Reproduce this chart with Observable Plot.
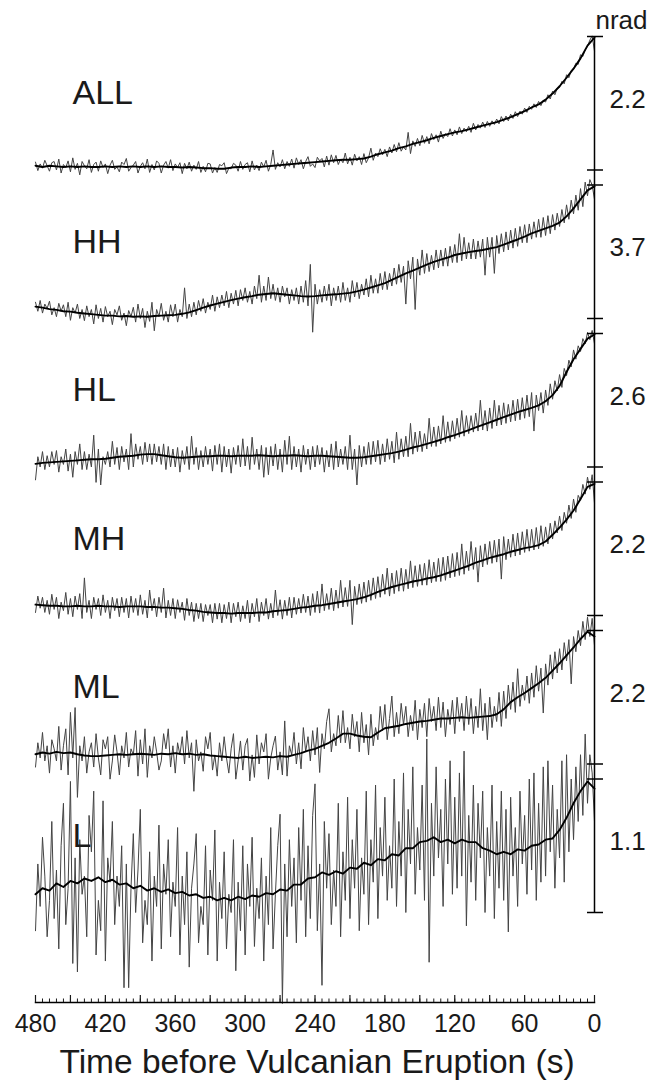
<!DOCTYPE html>
<html><head><meta charset="utf-8">
<script src="https://cdn.jsdelivr.net/npm/d3@7"></script>
<script src="https://cdn.jsdelivr.net/npm/@observablehq/plot@0.6"></script>
<style>html,body{margin:0;padding:0;background:#fff;}</style>
</head><body><div id="chart"></div>
<script>
// Series names and the nrad value of each scale bar
const seriesNames = ["ALL","HH","HL","MH","ML","L"];
const scaleNrad = [2.2, 3.7, 2.6, 2.2, 2.2, 1.1];
const rawStep = 2;     // seconds between raw samples (480 -> 0)
const smoothStep = 6;  // seconds between smoothed samples (480 -> 0)

// Raw tilt traces (nrad), t = 480, 478, ..., 0
const rawALL = [
0.13,-0.01,0.10, 0.03,0.16,0.07, -0.02,0.12,0.14, 0.00,0.18,-0.05,
0.09,0.04,0.15, -0.03,0.20,0.01, 0.11,-0.08,0.14, 0.07,0.02,0.17,
-0.04,0.09,0.13, -0.02,0.15,0.04, 0.10,-0.06,0.08, 0.16,0.01,0.05,
-0.03,0.13,0.09, 0.19,-0.02,0.04, 0.08,0.14,-0.05, 0.06,0.12,0.02,
0.18,-0.04,0.09, 0.00,0.15,0.11, -0.05,0.08,0.14, 0.03,0.17,-0.01,
0.10,0.04,0.12, -0.06,0.11,0.02, 0.13,-0.02,0.08, 0.01,0.14,-0.04,
0.06,-0.03,0.11, 0.10,-0.05,0.04, -0.04,0.09,0.07, 0.12,-0.06,0.03,
0.02,0.11,0.08, -0.02,0.14,0.01, 0.09,0.12,-0.03, 0.15,0.00,0.08,
-0.01,0.13,0.05, 0.16,-0.02,0.09, 0.33,0.01,0.12, 0.05,0.17,0.02,
0.14,0.06,0.18, 0.03,0.20,0.09, 0.17,0.02,0.14, 0.22,0.06,0.10,
0.04,0.21,0.15, 0.19,0.05,0.23, 0.08,0.25,0.12, 0.24,0.09,0.18,
0.12,0.28,0.10, 0.21,0.08,0.26, 0.15,0.22,0.09, 0.27,0.12,0.20,
0.36,0.16,0.28, 0.22,0.35,0.25, 0.34,0.22,0.38, 0.28,0.42,0.30,
0.45,0.31,0.38, 0.33,0.62,0.27, 0.48,0.39,0.52, 0.40,0.57,0.44,
0.55,0.43,0.60, 0.50,0.58,0.46, 0.64,0.52,0.60, 0.55,0.68,0.56,
0.66,0.58,0.71, 0.60,0.69,0.63, 0.72,0.62,0.77, 0.66,0.75,0.69,
0.79,0.70,0.80, 0.72,0.81,0.75, 0.84,0.76,0.88, 0.80,0.89,0.81,
0.92,0.85,0.96, 0.88,0.97,0.92, 1.02,0.95,1.05, 1.00,1.09,1.03,
1.13,1.06,1.15, 1.12,1.24,1.17, 1.30,1.24,1.35, 1.36,1.46,1.42,
1.57,1.52,1.64, 1.66,1.76,1.74, 1.90,1.87,1.98, 2.04,2.14,2.21,
1.96];
const rawHH = [
0.45,0.20,0.50, 0.15,0.40,0.28, 0.48,0.10,0.30, 0.05,0.42,0.20,
0.38,0.05,0.45, -0.05,0.30,0.15, 0.40,0.00,0.25, -0.06,0.35,0.05,
0.25,-0.15,0.38, 0.00,0.28,-0.10, 0.33,0.05,0.20, -0.17,0.25,0.10,
0.35,-0.05,0.15, -0.20,0.22,0.05, 0.31,-0.10,0.40, 0.00,0.28,-0.25,
0.20,-0.08,0.45, -0.34,0.25,0.05, 0.42,-0.05,0.20, -0.10,0.38,0.05,
0.40,-0.10,0.25, 0.05,0.85,0.00, 0.40,0.05,0.45, 0.10,0.50,0.20,
0.55,0.15,0.45, 0.25,0.65,0.20, 0.60,0.30,0.65, 0.35,0.75,0.30,
0.70,0.40,0.78, 0.35,0.80,0.50, 0.85,0.45,0.75, 0.40,0.90,0.55,
1.20,0.45,0.90, 0.50,1.15,0.55, 0.95,0.50,0.85, 0.45,0.90,0.60,
0.85,0.40,0.80, 0.50,0.85,0.40, 0.90,0.45,1.05, 0.35,1.50,-0.38,
0.95,0.40,0.80, 0.45,0.90,0.50, 0.95,0.35,0.85, 0.50,0.90,0.45,
1.00,0.50,0.85, 0.45,1.05,0.60, 1.00,0.55,0.95, 0.65,1.10,0.60,
1.20,0.70,1.10, 0.70,1.25,0.80, 1.30,0.80,1.25, 0.90,1.40,0.95,
1.50,1.00,1.45, 0.40,1.60,1.10, 1.70,0.25,1.65, 1.20,1.90,1.25,
1.80,1.30,1.75, 1.35,1.90,1.40, 1.90,1.45,1.95, 1.45,2.00,1.55,
2.05,1.55,2.35, 1.60,2.25,1.65, 2.10,1.65,2.20, 1.65,2.15,1.70,
2.20,1.20,2.25, 1.70,2.25,1.25, 2.30,1.80,2.35, 1.85,2.40,1.90,
2.45,1.95,2.50, 2.00,2.55,2.10, 2.60,2.10,2.62, 2.20,2.68,2.25,
2.75,2.25,2.80, 2.30,2.85,2.35, 2.88,2.45,2.92, 2.55,3.02,2.65,
3.15,2.75,3.28, 2.90,3.42,3.00, 3.60,3.10,3.78, 3.40,3.85,3.70,
3.30];
const rawHL = [
-0.25,0.20,0.00, 0.30,-0.05,0.22, 0.00,0.30,0.05, 0.32,-0.10,0.20,
0.05,0.35,-0.08, 0.25,-0.20,0.30, 0.05,0.45,-0.05, 0.30,-0.05,0.25,
0.00,0.62,-0.30, 0.35,-0.35,0.20, 0.05,0.30,0.00, 0.50,0.05,0.38,
-0.05,0.40,0.10, 0.35,-0.05,0.65, 0.00,0.45,0.15, 0.40,0.05,0.48,
0.10,0.45,0.05, 0.45,0.10,0.40, 0.05,0.45,-0.05, 0.40,0.00,0.35,
0.00,0.38,-0.10, 0.32,0.05,0.40, -0.05,0.60,0.05, 0.38,-0.05,0.32,
0.00,0.40,0.05, 0.35,-0.08,0.42, 0.05,0.45,-0.10, 0.40,0.00,0.35,
-0.12,0.38,0.05, 0.42,0.00,0.55, 0.02,0.40,-0.05, 0.58,0.05,0.35,
-0.05,0.42,-0.20, 0.38,-0.15,0.40, 0.02,0.45,-0.05, 0.35,-0.10,0.52,
0.05,0.60,-0.05, 0.40,0.00,0.35, -0.10,0.42,0.05, 0.35,-0.05,0.40,
0.00,0.42,0.05, 0.38,-0.10,0.32, 0.00,0.45,-0.05, 0.50,0.00,0.35,
0.05,0.40,-0.05, 0.62,-0.05,0.35, -0.35,0.42,0.00, 0.40,0.05,0.48,
0.05,0.50,0.10, 0.52,0.05,0.45, 0.10,0.55,0.15, 0.50,0.08,0.68,
0.15,0.55,0.20, 0.60,0.20,0.85, 0.25,0.68,0.30, 0.70,0.30,0.65,
0.35,0.95,0.40, 0.78,0.40,0.80, 0.45,1.00,0.48, 0.88,0.50,0.90,
0.55,0.95,0.58, 1.10,0.60,1.00, 0.65,1.00,0.68, 1.05,0.70,1.30,
0.72,1.10,0.70, 1.15,0.75,1.30, 0.80,1.20,0.82, 1.25,0.85,1.22,
0.88,1.30,0.90, 1.32,0.92,1.35, 0.95,1.40,0.98, 1.45,0.70,1.40,
1.10,1.45,1.05, 1.50,1.20,1.62, 1.32,1.68,1.48, 1.80,1.55,1.92,
1.78,2.08,1.95, 2.28,2.10,2.36, 2.25,2.50,2.40, 2.62,2.48,2.66,
2.40];
const rawMH = [
0.05,0.32,0.12, 0.30,0.05,0.25, 0.02,0.35,0.10, 0.30,-0.05,0.22,
0.08,0.38,0.02, 0.28,-0.02,0.32, 0.10,0.36,-0.05, 0.62,0.05,0.25,
-0.05,0.30,0.10, 0.28,0.00,0.34, 0.05,0.25,-0.05, 0.30,0.08,0.28,
-0.02,0.30,0.05, 0.28,-0.04,0.32, 0.05,0.28,0.00, 0.34,0.02,0.25,
-0.04,0.42,0.08, 0.28,-0.02,0.30, 0.05,0.45,-0.04, 0.25,0.00,0.28,
-0.05,0.26,0.05, 0.22,-0.08,0.28, 0.00,0.22,-0.10, 0.20,-0.05,0.20,
-0.10,0.18,0.00, 0.18,-0.12,0.20, -0.06,0.20,-0.12, 0.18,-0.05,0.22,
-0.12,0.20,-0.02, 0.22,-0.10,0.16, -0.05,0.25,-0.12, 0.20,-0.02,0.28,
-0.10,0.22,0.00, 0.28,-0.06,0.20, -0.04,0.42,0.00, 0.26,-0.06,0.25,
0.00,0.30,-0.04, 0.30,0.02,0.28, 0.04,0.35,0.05, 0.32,0.00,0.36,
0.05,0.40,0.04, 0.52,0.08,0.36, 0.10,0.45,0.08, 0.42,0.12,0.58,
0.14,0.46,0.15, 0.58,-0.15,0.48, 0.18,0.52,0.20, 0.55,0.22,0.58,
0.25,0.62,0.28, 0.64,0.30,0.68, 0.35,0.78,0.32, 0.70,0.36,0.74,
0.40,0.78,0.40, 0.76,0.44,0.90, 0.46,0.82,0.48, 0.84,0.50,0.86,
0.50,0.92,0.54, 0.88,0.56,0.94, 0.56,0.96,0.58, 0.98,0.62,1.02,
0.64,1.04,0.66, 1.18,0.68,1.06, 0.74,1.22,0.76, 1.12,0.55,1.15,
0.80,1.18,0.84, 1.22,0.86,1.24, 0.88,1.26,0.60, 1.30,0.92,1.26,
0.96,1.34,0.98, 1.36,1.00,1.38, 1.04,1.42,1.06, 1.42,1.08,1.45,
1.10,1.48,1.14, 1.46,1.18,1.52, 1.26,1.56,1.36, 1.64,1.40,1.70,
1.52,1.82,1.60, 1.92,1.70,1.98, 1.90,2.16,2.00, 2.28,2.08,2.32,
1.85];
const rawML = [
-0.05,0.35,0.10, 0.52,0.05,0.30, -0.15,0.40,0.25, 0.05,0.62,-0.10,
0.30,0.58,-0.18, 0.85,0.10,0.93, -0.55,0.30,0.05, 0.45,-0.15,0.20,
0.35,-0.05,0.50, 0.10,-0.18,0.40, 0.25,0.45,-0.25, 0.05,0.48,0.20,
-0.18,0.30,0.10, 0.52,-0.05,0.25, 0.15,0.55,-0.20, 0.40,0.00,0.58,
-0.22,0.30,0.10, 0.45,0.20,-0.10, 0.05,0.50,0.25, 0.58,-0.05,0.30,
-0.15,0.35,0.15, 0.45,0.00,0.55, 0.10,0.35,-0.45, 0.40,0.05,0.20,
-0.12,0.45,0.25, 0.52,-0.10,0.15, -0.20,0.35,0.05, 0.45,0.10,-0.15,
0.25,0.50,-0.25, 0.05,0.38,-0.10, 0.30,0.42,-0.28, 0.15,-0.22,0.48,
0.00,0.35,0.20, 0.50,-0.25,0.10, 0.30,0.46,-0.10, 0.20,-0.18,0.71,
-0.20,0.30,0.15, 0.52,0.00,0.35, -0.08,0.60,0.20, 0.45,0.05,0.55,
0.15,0.60,-0.14, 0.50,0.25,0.70, 0.91,0.20,0.50, 0.30,0.80,0.35,
0.88,0.35,0.60, 0.25,0.82,0.45, 0.70,0.20,0.85, 0.35,0.65,0.15,
0.82,0.30,0.60, 0.40,0.95,0.55, 0.98,0.40,0.75, 1.12,0.45,0.85,
0.50,1.00,0.65, 0.95,0.45,0.80, 0.55,1.05,0.40, 0.90,0.60,1.00,
0.45,1.08,0.70, 0.95,0.55,1.10, 0.60,1.02,0.45, 0.90,0.65,1.05,
0.50,1.10,0.70, 1.00,0.55,1.12, 0.65,1.08,0.50, 0.95,0.60,1.24,
0.55,1.00,0.40, 1.10,0.60,0.95, 0.70,1.18,0.62, 1.20,0.75,1.30,
0.90,1.35,0.85, 1.57,0.95,1.30, 1.05,1.45,1.00, 1.50,1.10,1.62,
1.20,1.58,0.84, 1.65,1.30,1.80, 1.40,1.85,1.50, 1.90,1.55,2.00,
1.70,2.05,1.32, 2.10,1.85,2.20, 1.95,2.35,2.05, 2.42,2.10,2.40,
1.95];
const rawL = [
-0.15,0.40,0.05, 0.62,0.30,-0.20, 0.10,0.75,-0.05, 0.35,-0.30,0.55,
0.90,-0.10,0.20, 1.08,-0.42,0.45, -0.49,0.60,0.15, 0.30,-0.20,0.80,
0.50,1.00,-0.35, 0.10,-0.15,0.92, -0.40,0.45,0.25, 0.75,-0.10,0.30,
0.05,0.55,-0.62, 0.40,-0.62,0.20, 0.65,0.00,0.35, 0.85,-0.25,0.10,
-0.10,0.50,-0.40, 0.30,0.05,0.72, -0.30,0.40,0.15, 0.60,-0.20,0.25,
0.05,0.70,-0.35, 0.30,-0.10,0.50, -0.45,0.20,0.40, 0.65,-0.25,0.05,
-0.10,0.55,-0.35, 0.35,0.10,0.68, -0.40,0.25,-0.05, 0.50,-0.30,0.15,
0.00,0.60,-0.48, 0.25,-0.15,0.55, -0.35,0.40,0.05, 0.62,-0.28,0.20,
-0.05,0.45,-0.40, 0.30,-0.10,0.70, -0.30,0.15,0.55, 0.81,-0.75,0.40,
-0.20,0.60,0.05, 0.45,-0.25,0.70, 0.10,0.85,-0.20, 0.55,-0.05,0.80,
1.06,-0.15,0.40, -0.60,0.75,0.20, 0.65,-0.10,0.35, 0.05,0.90,-0.20,
0.50,0.10,0.95, -0.05,0.60,0.20, 0.85,-0.15,0.45, 0.15,1.00,-0.10,
0.60,0.25,1.05, -0.05,0.70,0.30, 0.95,0.10,0.55, 0.20,1.10,0.05,
0.75,0.30,1.15, 0.00,0.85,0.40, 1.20,0.15,0.70, 0.35,1.05,0.10,
1.43,-0.41,0.90, 0.30,1.20,0.45, 0.85,0.05,1.10, 0.40,1.25,0.15,
0.95,0.20,1.15, 0.30,1.33,-0.11, 0.80,0.25,1.05, 0.10,0.90,0.45,
1.00,0.00,0.70, 0.30,1.05,-0.05, 0.75,0.20,1.00, 0.10,0.85,-0.16,
0.95,0.30,0.70, 0.05,1.00,0.40, 0.80,0.15,1.10, 0.35,1.15,0.10,
0.90,0.25,1.20, 0.30,1.25,0.50, 1.05,0.20,0.85, 0.45,1.25,0.25,
1.30,0.50,1.10, 0.60,1.20,0.75, 1.30,0.80,1.47, 0.90,1.30,1.15,
0.75];

// Smoothed traces (nrad), t = 480, 474, ..., 0
const smoothALL = [
0.07,0.05,0.07,0.06,0.05,0.06,0.05,0.06,0.05,0.05,
0.06,0.05,0.06,0.05,0.06,0.05,0.06,0.05,0.06,0.05,
0.05,0.04,0.05,0.04,0.03,0.03,0.02,0.02,0.04,0.05,
0.05,0.06,0.05,0.06,0.07,0.08,0.09,0.10,0.11,0.12,
0.13,0.14,0.15,0.16,0.17,0.17,0.18,0.19,0.22,0.26,
0.29,0.32,0.36,0.39,0.43,0.46,0.49,0.53,0.56,0.59,
0.62,0.64,0.67,0.70,0.73,0.76,0.79,0.83,0.87,0.92,
0.97,1.03,1.08,1.16,1.26,1.38,1.52,1.67,1.84,2.05,
2.18];
const smoothHH = [
0.33,0.30,0.26,0.24,0.20,0.19,0.16,0.14,0.12,0.10,
0.08,0.08,0.06,0.07,0.05,0.06,0.05,0.07,0.08,0.09,
0.10,0.13,0.17,0.23,0.30,0.36,0.41,0.46,0.51,0.55,
0.59,0.62,0.66,0.68,0.70,0.68,0.66,0.64,0.62,0.61,
0.62,0.64,0.66,0.67,0.69,0.71,0.75,0.80,0.86,0.92,
0.98,1.07,1.16,1.25,1.33,1.41,1.49,1.57,1.63,1.69,
1.76,1.80,1.84,1.87,1.90,1.94,1.98,2.05,2.12,2.19,
2.27,2.36,2.43,2.50,2.57,2.66,2.83,3.05,3.30,3.55,
3.66];
const smoothHL = [
0.06,0.08,0.09,0.10,0.11,0.12,0.13,0.14,0.15,0.15,
0.16,0.18,0.20,0.21,0.22,0.24,0.25,0.25,0.23,0.21,
0.19,0.18,0.19,0.20,0.21,0.21,0.22,0.22,0.21,0.22,
0.22,0.22,0.23,0.22,0.21,0.22,0.22,0.23,0.22,0.21,
0.22,0.22,0.21,0.20,0.19,0.18,0.18,0.19,0.21,0.23,
0.25,0.27,0.30,0.34,0.38,0.41,0.45,0.49,0.53,0.58,
0.62,0.67,0.72,0.77,0.82,0.87,0.92,0.97,1.02,1.07,
1.11,1.15,1.20,1.28,1.40,1.58,1.85,2.10,2.30,2.50,
2.58];
const smoothMH = [
0.18,0.17,0.16,0.16,0.15,0.15,0.16,0.15,0.15,0.16,
0.15,0.15,0.14,0.15,0.15,0.15,0.14,0.14,0.13,0.13,
0.12,0.11,0.09,0.08,0.06,0.05,0.04,0.04,0.03,0.04,
0.04,0.04,0.05,0.05,0.07,0.08,0.09,0.11,0.13,0.14,
0.16,0.17,0.19,0.21,0.23,0.25,0.27,0.30,0.34,0.39,
0.43,0.47,0.50,0.53,0.56,0.58,0.61,0.63,0.66,0.70,
0.74,0.78,0.82,0.87,0.91,0.95,0.98,1.01,1.05,1.08,
1.11,1.13,1.16,1.22,1.33,1.45,1.58,1.73,1.92,2.12,
2.17];
const smoothML = [
0.16,0.19,0.17,0.20,0.18,0.19,0.16,0.14,0.13,0.13,
0.14,0.15,0.16,0.15,0.16,0.17,0.16,0.15,0.17,0.16,
0.18,0.16,0.17,0.15,0.16,0.14,0.13,0.12,0.11,0.10,
0.12,0.10,0.11,0.12,0.11,0.13,0.12,0.15,0.18,0.22,
0.25,0.30,0.35,0.42,0.50,0.50,0.47,0.45,0.44,0.52,
0.59,0.61,0.63,0.66,0.68,0.70,0.71,0.73,0.75,0.75,
0.76,0.77,0.76,0.77,0.78,0.79,0.82,0.90,1.02,1.10,
1.17,1.25,1.33,1.42,1.54,1.66,1.79,1.92,2.06,2.18,
2.10];
const smoothL = [
0.15,0.20,0.18,0.24,0.21,0.26,0.24,0.28,0.26,0.29,
0.25,0.27,0.23,0.24,0.20,0.22,0.18,0.20,0.17,0.19,
0.16,0.17,0.14,0.15,0.12,0.13,0.10,0.12,0.10,0.13,
0.11,0.14,0.13,0.16,0.15,0.19,0.18,0.23,0.23,0.28,
0.29,0.33,0.31,0.34,0.32,0.37,0.36,0.41,0.39,0.44,
0.43,0.48,0.47,0.53,0.53,0.58,0.59,0.62,0.58,0.60,
0.57,0.60,0.58,0.58,0.53,0.51,0.48,0.50,0.48,0.52,
0.51,0.55,0.56,0.60,0.61,0.68,0.78,0.90,1.00,1.08,
1.02];

// x-axis ticks
const xLabelTicks = [480, 420, 360, 300, 240, 180, 120, 60, 0];
const xMajorTicks = [480, 450, 420, 390, 360, 330, 300, 270, 240, 210, 180, 150, 120, 90, 60, 30, 0];
const xMinorTicks = d3.range(0, 481, 6);
const xTitle = "Time before Vulcanian Eruption (s)";
const unitLabel = "nrad";

// ---- build tables ----
const gap = 1.1124; // spacing between stacked panels, in scale-bar heights
const rawSeries = [rawALL, rawHH, rawHL, rawMH, rawML, rawL];
const smoothSeries = [smoothALL, smoothHH, smoothHL, smoothMH, smoothML, smoothL];
const rawRows = [], smoothRows = [];
seriesNames.forEach((name, i) => {
  rawSeries[i].forEach((v, j) => rawRows.push({name, t: 480 - j * rawStep, u: v / scaleNrad[i] - i * gap}));
  smoothSeries[i].forEach((v, j) => smoothRows.push({name, t: 480 - j * smoothStep, u: v / scaleNrad[i] - i * gap}));
});
const bars = seriesNames.map((name, i) => ({
  name, label: scaleNrad[i].toFixed(1), lo: -i * gap, hi: 1 - i * gap, mid: 0.5 - i * gap
}));
const edges = bars.flatMap(b => [b.lo, b.hi]);
const font = "'Liberation Sans', Arial, Helvetica, sans-serif";

const chart = Plot.plot({
  width: 664,
  height: 1090,
  marginTop: 36, marginRight: 70, marginBottom: 88, marginLeft: 35,
  style: {fontFamily: font, fontSize: "25px", color: "#1a1a1a", background: "#ffffff"},
  x: {domain: [480, 0], axis: null},
  y: {domain: [-5 * gap, 1], range: [912, 36], axis: null},
  marks: [
    Plot.line(rawRows, {x: "t", y: "u", z: "name", stroke: "#444", strokeWidth: 1}),
    Plot.line(smoothRows, {x: "t", y: "u", z: "name", stroke: "#000", strokeWidth: 1.9}),
    Plot.text(bars, {y: "hi", text: "name", frameAnchor: "left", textAnchor: "start", dx: 37, dy: 57, fontSize: 34}),
    Plot.ruleX([0], {y1: -5 * gap, y2: 1, stroke: "#000", strokeWidth: 1.5}),
    Plot.ruleY(edges, {y: d => d, x1: 0, x2: 0, insetLeft: -7, insetRight: -9, stroke: "#000", strokeWidth: 1.5}),
    Plot.text(bars, {y: "mid", text: "label", frameAnchor: "right", textAnchor: "start", dx: 15, dy: -4, fontSize: 26}),
    Plot.text([unitLabel], {y: 1, text: d => d, frameAnchor: "right", textAnchor: "start", dx: 1, dy: -16, fontSize: 26}),
    Plot.frame({anchor: "bottom", stroke: "#000", strokeWidth: 1.5}),
    Plot.axisX({ticks: xMinorTicks, tickSize: -3.5, tickFormat: () => "", label: null, strokeWidth: 1}),
    Plot.axisX({ticks: xMajorTicks, tickSize: -7, tickFormat: () => "", label: null, strokeWidth: 1.2}),
    Plot.axisX({ticks: xLabelTicks, tickSize: 0, tickPadding: 12, fontSize: 25, label: null}),
    Plot.text([xTitle], {text: d => d, frameAnchor: "bottom", dx: 2, dy: 70, fontSize: 33.5})
  ]
});
document.getElementById("chart").appendChild(chart);
</script>
</body></html>
